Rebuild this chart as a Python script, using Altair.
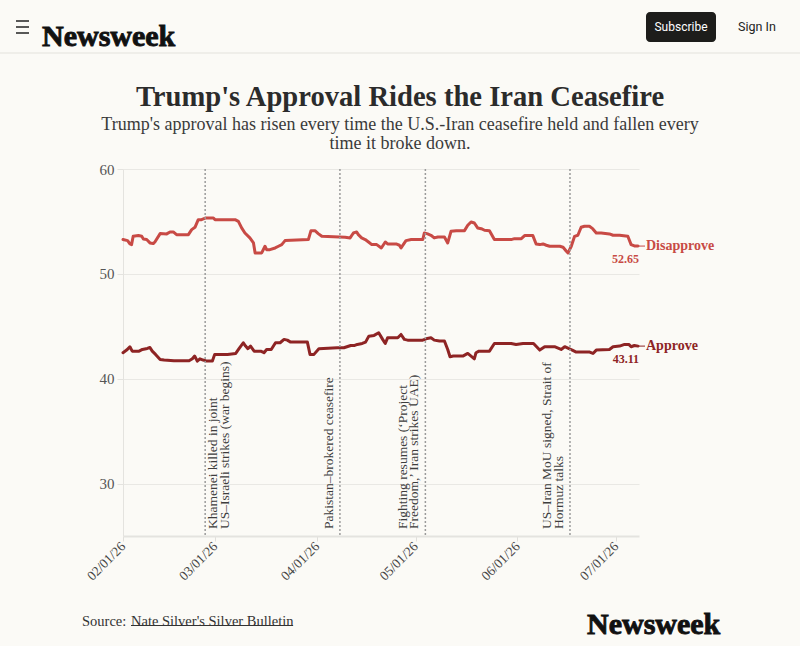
import altair as alt
import pandas as pd

SERIF = "Liberation Serif"
SANS = "Roboto"
BG = "#fbfaf6"

# ---------------- data ----------------
series_names = ["Disapprove", "Approve"]
series_colors = ["#c84a45", "#8e2424"]

# days after 2026-02-01
disapprove_day = [0.0, 1.4, 2.1, 2.6, 3.1, 4.7, 5.7, 6.2, 7.2, 8.2, 9.2, 9.7, 11.3, 13.3, 14.3, 15.3,
                  16.3, 19.9, 20.9, 21.9, 22.9, 23.9, 25.2, 27.5, 28.0, 34.1, 35.1, 36.1, 37.1, 38.6,
                  39.7, 40.2, 42.2, 43.2, 43.7, 44.7, 46.3, 47.3, 48.3, 49.3, 56.4, 57.2, 58.4, 59.4,
                  60.5, 67.6, 69.1, 70.1, 71.1, 71.6, 72.6, 73.7, 74.7, 75.7, 77.2, 78.6, 79.8, 80.5,
                  83.1, 84.1, 84.6, 86.1, 87.7, 91.2, 91.7, 92.7, 93.7, 94.7, 95.8, 97.8, 98.8, 99.8,
                  101.4, 103.9, 104.9, 105.9, 106.9, 107.9, 109.0, 110.0, 111.5, 113.0, 118.1, 119.1,
                  121.2, 122.2, 124.7, 125.7, 126.8, 127.8, 128.8, 129.8, 132.9, 133.9, 134.9, 135.4,
                  136.4, 137.4, 138.4, 139.4, 140.4, 141.9, 142.9, 144.0, 145.5, 148.0, 149.1, 151.1,
                  153.6, 154.6, 155.6, 156.7]
disapprove_val = [53.27, 53.17, 52.85, 52.79, 53.58, 53.65, 53.58, 53.33, 53.27, 52.95, 52.89, 53.04,
                  53.84, 53.81, 54.00, 54.00, 53.74, 53.74, 54.22, 54.44, 55.17, 55.17, 55.33, 55.33,
                  55.17, 55.17, 55.01, 54.38, 53.90, 53.43, 52.95, 52.00, 52.00, 52.63, 52.31, 52.31,
                  52.47, 52.63, 52.79, 53.17, 53.27, 54.12, 54.12, 53.84, 53.58, 53.49, 53.43, 53.90,
                  54.00, 53.74, 53.43, 53.27, 53.04, 52.79, 52.79, 52.47, 53.04, 52.85, 52.85, 52.73,
                  52.47, 53.17, 53.27, 53.27, 53.90, 53.81, 53.68, 53.43, 53.52, 53.52, 52.95, 54.06,
                  54.12, 54.12, 54.63, 54.95, 54.85, 54.38, 54.31, 54.16, 54.12, 53.27, 53.27, 53.36,
                  53.36, 53.65, 53.65, 52.85, 52.79, 52.85, 52.73, 52.63, 52.63, 52.54, 52.16, 52.00,
                  52.63, 53.58, 53.68, 54.44, 54.54, 54.54, 54.31, 53.90, 53.90, 53.81, 53.68, 53.68,
                  53.58, 52.79, 52.66, 52.65]

approve_day = [0.0, 1.1, 2.1, 2.8, 4.9, 5.9, 7.4, 8.2, 8.9, 9.9, 11.3, 12.5, 15.5, 20.1, 21.1, 21.8,
               22.6, 23.4, 24.4, 25.5, 27.2, 27.9, 31.8, 34.3, 35.3, 36.6, 37.3, 38.0, 38.8, 39.9,
               41.9, 42.9, 43.7, 45.1, 46.4, 47.8, 49.0, 50.0, 51.0, 56.1, 56.9, 58.1, 59.6, 65.2,
               67.2, 69.3, 70.5, 71.3, 72.8, 73.8, 74.8, 76.4, 77.8, 79.0, 79.8, 80.5, 83.6, 84.6,
               85.6, 86.6, 91.2, 92.2, 93.7, 94.7, 96.3, 97.8, 98.8, 99.5, 100.5, 103.4, 104.9, 105.9,
               106.9, 107.4, 108.3, 111.5, 113.0, 118.1, 119.6, 121.7, 124.9, 126.8, 128.3, 131.3,
               133.3, 134.4, 135.7, 136.7, 137.9, 142.0, 143.0, 144.0, 148.0, 149.1, 151.1, 152.6,
               153.9, 154.6, 155.6, 156.7]
approve_val = [42.48, 42.73, 43.05, 42.63, 42.63, 42.79, 42.89, 42.98, 42.63, 42.32, 41.84, 41.78,
               41.71, 41.71, 41.90, 42.16, 41.68, 41.90, 41.78, 41.68, 41.68, 42.32, 42.32, 42.41,
               42.86, 43.43, 43.11, 42.86, 43.11, 42.63, 42.63, 42.48, 42.79, 42.79, 43.43, 43.43,
               43.75, 43.68, 43.49, 43.49, 42.32, 42.32, 42.86, 42.95, 42.95, 43.17, 43.17, 43.27,
               43.36, 43.49, 44.06, 44.13, 44.38, 43.75, 43.36, 43.90, 43.90, 44.22, 43.75, 43.68,
               43.68, 43.81, 43.90, 43.68, 43.59, 43.59, 42.79, 42.09, 42.16, 42.16, 42.41, 42.16,
               41.90, 42.48, 42.63, 42.63, 43.36, 43.36, 43.27, 43.36, 43.36, 42.73, 43.05, 43.05,
               42.79, 43.05, 42.86, 42.73, 42.54, 42.54, 42.41, 42.73, 42.79, 43.05, 43.11, 43.27,
               43.27, 43.05, 43.17, 43.11]

event_dates = ["2026-02-26T00:00:00", "2026-04-08T00:00:00", "2026-05-04T00:00:00", "2026-06-17T00:00:00"]
event_labels = [
    "Khamenei killed in joint\nUS\u2013Israeli strikes (war begins)",
    "Pakistan\u2013brokered ceasefire",
    "Fighting resumes (\u2018Project\nFreedom,\u2019 Iran strikes UAE)",
    "US\u2013Iran MoU signed, Strait of\nHormuz talks",
]

y_ticks = [30, 40, 50, 60]
x_tick_months = [2, 3, 4, 5, 6, 7]

title_text = "Trump's Approval Rides the Iran Ceasefire"
subtitle_lines = ["Trump's approval has risen every time the U.S.-Iran ceasefire held and fallen every",
                  "time it broke down."]

# ---------------- tables ----------------
base_ts = pd.Timestamp("2026-02-01")


def to_dates(days):
    return [(base_ts + pd.Timedelta(days=d)).strftime("%Y-%m-%dT%H:%M:%S") for d in days]


lines_df = pd.DataFrame({
    "date": to_dates(disapprove_day) + to_dates(approve_day),
    "value": disapprove_val + approve_val,
    "series": [series_names[0]] * len(disapprove_val) + [series_names[1]] * len(approve_val),
})
end_df = pd.DataFrame({
    "date": to_dates([disapprove_day[-1], approve_day[-1]]),
    "value": [disapprove_val[-1], approve_val[-1]],
    "series": series_names,
    "num": [f"{disapprove_val[-1]:.2f}", f"{approve_val[-1]:.2f}"],
})
ev_df = pd.DataFrame({"date": event_dates, "label": event_labels, "idx": list(range(len(event_dates)))})
deco = pd.DataFrame({"k": [0]})

# ---------------- layout ----------------
W, H = 516, 367
L, T = 123, 169

x_scale = alt.Scale(domain=[alt.DateTime(year=2026, month=2, date=1),
                            alt.DateTime(year=2026, month=7, date=8)])
y_scale = alt.Scale(domain=[25, 60], nice=False, zero=False)
color = alt.Color("series:N", scale=alt.Scale(domain=series_names, range=series_colors), legend=None)

x_axis = alt.Axis(format="%m/%d/%y", values=[alt.DateTime(year=2026, month=m, date=1) for m in x_tick_months],
                  labelAngle=315, labelAlign="right", labelBaseline="middle", grid=False,
                  tickSize=5, labelPadding=3, domainColor="#e4e3df", domainWidth=2, tickColor="#e0dfdb",
                  labelFont=SERIF, labelFontSize=13.5, labelColor="#444", title=None)
y_axis = alt.Axis(values=y_ticks, grid=True, gridColor="#e9e8e4", domainColor="#e4e3df", tickColor="#e4e3df",
                  tickSize=6, labelPadding=3, labelFont=SERIF, labelFontSize=15, labelColor="#555", title=None)

lines = alt.Chart(lines_df).mark_line(strokeWidth=3, strokeCap="round", strokeJoin="round").encode(
    x=alt.X("date:T", scale=x_scale, axis=x_axis),
    y=alt.Y("value:Q", scale=y_scale, axis=y_axis),
    color=color,
    detail="series:N",
)

ev_rules = alt.Chart(ev_df).mark_rule(strokeDash=[2, 2], strokeWidth=1.5, color="#9b9b9b").encode(
    x=alt.X("date:T", scale=x_scale))

ev_base = alt.Chart(ev_df).encode(x=alt.X("date:T", scale=x_scale), y=alt.value(H - 7), text="label:N")
txt_style = dict(angle=270, align="left", baseline="alphabetic", lineBreak="\n", lineHeight=11.5,
                 font=SERIF, fontSize=13.5, color="#3d3d3d")
ev_t_right = ev_base.transform_filter(alt.datum.idx == 0).mark_text(dy=12, **txt_style)
ev_t_single = ev_base.transform_filter(alt.datum.idx == 1).mark_text(dy=-6.5, **txt_style)
ev_t_double = ev_base.transform_filter(alt.datum.idx >= 2).mark_text(dy=-18.5, **txt_style)

end_base = alt.Chart(end_df).encode(x=alt.X("date:T", scale=x_scale), y=alt.Y("value:Q", scale=y_scale),
                                    color=color)
connector = end_base.mark_rule(strokeWidth=1, xOffset=1, x2Offset=7).encode(x2="date:T")
series_lbl = end_base.mark_text(align="left", baseline="middle", dx=8, font=SERIF, fontSize=14,
                                fontWeight="bold").encode(text="series:N")
num_lbl = end_base.mark_text(align="right", baseline="middle", dx=1, dy=12.5, font=SERIF, fontSize=12,
                             fontWeight="bold").encode(text="num:N")


def px(x):
    return alt.value(x - L)


def py(y):
    return alt.value(y - T)


def text_at(x, y, s, **kw):
    return alt.Chart(deco).mark_text(**kw).encode(x=px(x), y=py(y), text=alt.value(s))


def rule_at(x1, x2, y1, y2, **kw):
    return alt.Chart(deco).mark_rule(**kw).encode(x=px(x1), x2=px(x2), y=py(y1), y2=py(y2))


logo_style = dict(font=SERIF, fontSize=30, fontWeight="bold", color="#111", stroke="#111", strokeWidth=0.9,
                  align="left")

header = [
    rule_at(0, 800, 53, 53, color="#ebeae5", strokeWidth=1.5),
    rule_at(16, 29, 21, 21, color="#222", strokeWidth=1.5),
    rule_at(16, 29, 27, 27, color="#222", strokeWidth=1.5),
    rule_at(16, 29, 33, 33, color="#222", strokeWidth=1.5),
    text_at(42, 37, "Newsweek", **logo_style),
    alt.Chart(deco).mark_rect(cornerRadius=4, color="#1d1d1b").encode(x=px(646), x2=px(716), y=py(12), y2=py(42)),
    text_at(681, 27, "Subscribe", font=SANS, fontSize=12, color="#ffffff", align="center", baseline="middle"),
    text_at(757, 27, "Sign In", font=SANS, fontSize=12.5, color="#222", align="center", baseline="middle"),
]

titles = [
    text_at(400, 96.5, title_text, font=SERIF, fontSize=28.6, fontWeight="bold", color="#2b2b2b", align="center"),
    text_at(400, 125, subtitle_lines[0], font=SERIF, fontSize=18, color="#3a3a3a", align="center"),
    text_at(400, 143.5, subtitle_lines[1], font=SERIF, fontSize=18, color="#3a3a3a", align="center"),
]

footer = [
    text_at(82, 622, "Source:", font=SERIF, fontSize=14.5, color="#333", align="left"),
    text_at(131, 622, "Nate Silver's Silver Bulletin", font=SERIF, fontSize=14.5, color="#333", align="left"),
    rule_at(131, 293, 625.5, 625.5, color="#333", strokeWidth=1),
    text_at(587, 625, "Newsweek", **logo_style),
]

chart = alt.layer(
    lines, ev_rules, ev_t_right, ev_t_single, ev_t_double, connector, series_lbl, num_lbl,
    *header, *titles, *footer,
).properties(
    width=W, height=H,
    padding={"left": L, "top": T, "right": 800 - L - W, "bottom": 646 - T - H},
    autosize=alt.AutoSizeParams(type="none"),
    background=BG,
).configure_view(stroke=None)

chart.save("out.html", embed_options={"renderer": "svg", "actions": False})
